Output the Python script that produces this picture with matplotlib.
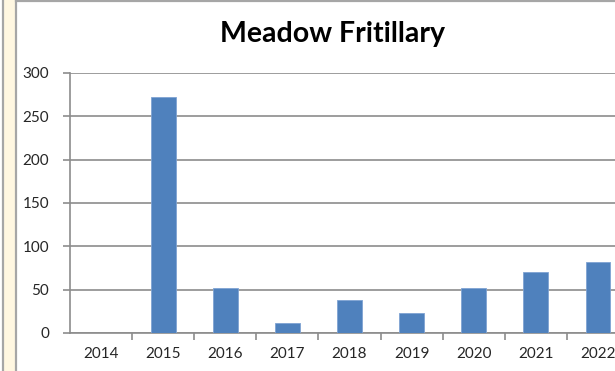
import matplotlib.pyplot as plt
from matplotlib.patches import Rectangle
from matplotlib.lines import Line2D

# ==========================================
# DATA
# ==========================================

years = ["2014", "2015", "2016", "2017", "2018", "2019", "2020", "2021", "2022"]
counts = [0, 272, 52, 11, 38, 23, 52, 70, 82]
y_ticks = [0, 50, 100, 150, 200, 250, 300]

bar_color = "#4F81BD"
grid_color = "#8C8C8C"
text_color = "#262626"

# ==========================================
# FIGURE
# ==========================================

W, H = 615, 371
fig = plt.figure(figsize=(W / 100, H / 100), dpi=100)
fig.patch.set_facecolor("white")

# cream side strip with grey borders
fig.add_artist(Rectangle((3 / W, 0), 13 / W, 1, transform=fig.transFigure,
                         facecolor="#FFF7E1", edgecolor="none", zorder=0))
for xpix in (3, 16):
    fig.add_artist(Line2D([xpix / W, xpix / W], [0, 1], transform=fig.transFigure,
                          color="#A6A6A6", linewidth=1.6))
fig.add_artist(Line2D([16 / W, 1], [1 - 0.8 / H, 1 - 0.8 / H], transform=fig.transFigure,
                      color="#A6A6A6", linewidth=1.6))

# plot area runs off the right edge
left, right, bottom, top = 70, 629, 333, 73
ax = fig.add_axes([left / W, (H - bottom) / H, (right - left) / W, (bottom - top) / H])

x = list(range(len(years)))
ax.bar(x, counts, width=0.4, color=bar_color, edgecolor="#7FA3D3", linewidth=0.6, zorder=3)

ax.set_xlim(-0.5, len(years) - 0.5)
ax.set_ylim(0, 300)
ax.set_yticks(y_ticks)
ax.set_yticklabels([str(v) for v in y_ticks], fontsize=11, color=text_color, family="Lato")
ax.set_xticks(x)
ax.set_xticklabels(years, fontsize=11, color=text_color, family="Lato")
ax.set_xticks([i + 0.5 for i in x], minor=True)

ax.tick_params(axis="x", which="major", length=0, pad=10)
ax.tick_params(axis="x", which="minor", length=5, color=grid_color, width=1.2)
ax.tick_params(axis="y", length=5, color=grid_color, width=1.2, pad=10)

ax.grid(axis="y", color=grid_color, linewidth=1.2, zorder=0)
for side in ("top", "right"):
    ax.spines[side].set_visible(False)
for side in ("left", "bottom"):
    ax.spines[side].set_color(grid_color)
    ax.spines[side].set_linewidth(1.2)

fig.text(332 / W, 1 - 34 / H, "Meadow Fritillary", ha="center", va="center",
         fontsize=20.5, fontweight="bold", family="Lato", color="black")

plt.savefig("out.png", dpi=100)
